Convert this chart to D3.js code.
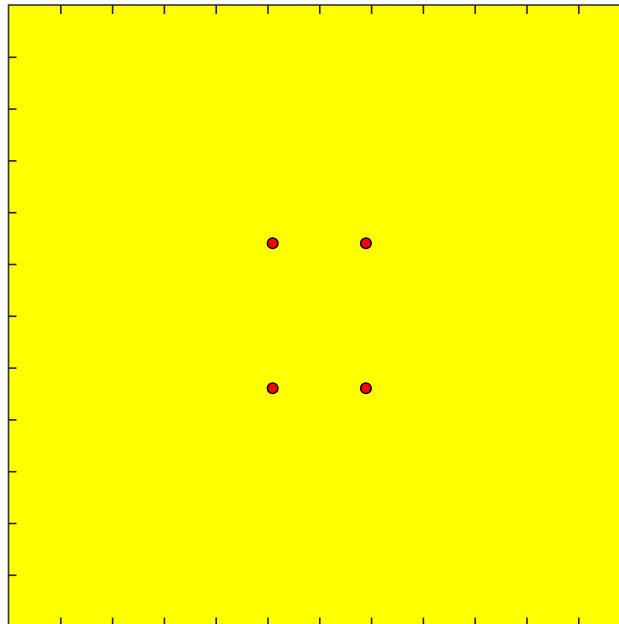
<!DOCTYPE html>
<html>
<head>
<meta charset="utf-8">
<script src="https://cdn.jsdelivr.net/npm/d3@7"></script>
<style>
html, body { margin: 0; padding: 0; background: #ffffff; overflow: hidden; }
svg { display: block; }
</style>
</head>
<body>
<svg id="chart" width="619" height="624"></svg>
<script>
// Data
const xDomain = [0, 12];
const yDomain = [0, 12];
const xTicks = [1, 2, 3, 4, 5, 6, 7, 8, 9, 10, 11];
const yTicks = [1, 2, 3, 4, 5, 6, 7, 8, 9, 10, 11];
const pointX = [5.1, 6.9, 5.1, 6.9];
const pointY = [7.4, 7.4, 4.6, 4.6];

const svg = d3.select("#chart");
const plotLeft = 8.5, plotTop = 5, plotSize = 621.6;

const x = d3.scaleLinear().domain(xDomain).range([plotLeft, plotLeft + plotSize]);
const y = d3.scaleLinear().domain(yDomain).range([plotTop + plotSize, plotTop]);

svg.append("rect")
  .attr("x", plotLeft).attr("y", plotTop)
  .attr("width", plotSize).attr("height", plotSize)
  .attr("fill", "#ffff00")
  .attr("stroke", "#333333")
  .attr("stroke-width", 1.6);

const tickLen = 9;
const styleAxis = g => {
  g.select(".domain").remove();
  g.selectAll(".tick line").attr("stroke", "#222222").attr("stroke-width", 1.6);
  g.selectAll(".tick text").remove();
};

svg.append("g")
  .attr("transform", `translate(0,${plotTop})`)
  .call(d3.axisTop(x).tickValues(xTicks).tickSize(-tickLen))
  .call(styleAxis);

svg.append("g")
  .attr("transform", `translate(0,${plotTop + plotSize})`)
  .call(d3.axisBottom(x).tickValues(xTicks).tickSize(-tickLen))
  .call(styleAxis);

svg.append("g")
  .attr("transform", `translate(${plotLeft},0)`)
  .call(d3.axisLeft(y).tickValues(yTicks).tickSize(-tickLen + 1))
  .call(styleAxis);

svg.append("g")
  .attr("transform", `translate(${plotLeft + plotSize},0)`)
  .call(d3.axisRight(y).tickValues(yTicks).tickSize(-tickLen))
  .call(styleAxis);

const pts = pointX.map((v, i) => ({ x: v, y: pointY[i] }));
svg.append("g").selectAll("circle")
  .data(pts)
  .join("circle")
  .attr("cx", d => x(d.x))
  .attr("cy", d => y(d.y))
  .attr("r", 5.3)
  .attr("fill", "#ff0000")
  .attr("stroke", "#000000")
  .attr("stroke-width", 1.5);
</script>
</body>
</html>
